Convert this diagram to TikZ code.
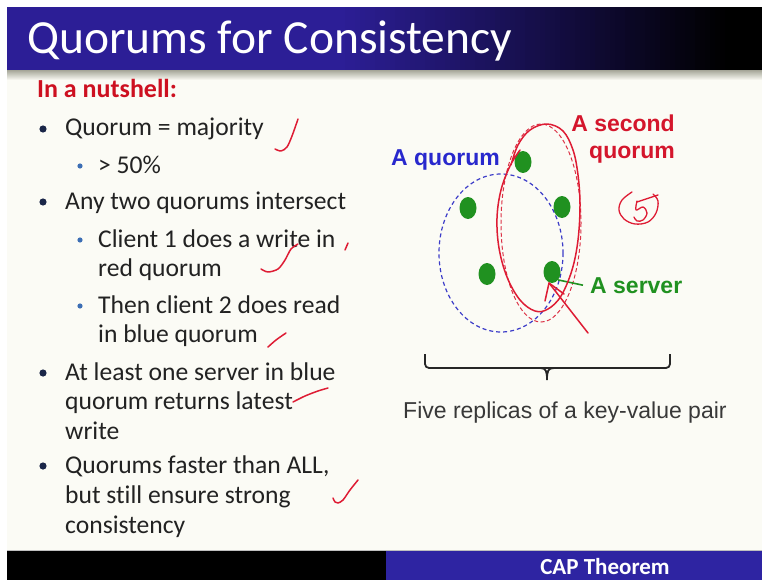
\documentclass[tikz,border=0pt]{standalone}
\usepackage{fontspec}
\setmainfont[Ligatures={NoCommon,NoRequired,NoContextual}]{Carlito}
\newfontfamily\arialf{Liberation Sans}
\usetikzlibrary{shapes.geometric}
\definecolor{titleblue}{RGB}{44,30,150}
\definecolor{barblue}{RGB}{46,36,162}
\definecolor{bodybg}{RGB}{251,251,245}
\definecolor{shadowgray}{RGB}{165,166,152}
\definecolor{textgray}{RGB}{34,34,34}
\definecolor{nutred}{RGB}{205,16,32}
\definecolor{bulletnavy}{RGB}{26,38,72}
\definecolor{subblue}{RGB}{60,110,180}
\definecolor{qblue}{RGB}{40,40,205}
\definecolor{qred}{RGB}{212,22,44}
\definecolor{srvgreen}{RGB}{32,145,32}
\definecolor{penred}{RGB}{222,28,52}
\definecolor{dashblue}{RGB}{60,60,200}
\definecolor{dashred}{RGB}{220,50,70}
\begin{document}
\begin{tikzpicture}[x=1pt,y=-1pt,
  bodytext/.style={anchor=base west, inner sep=0pt, text=textgray, font=\fontsize{25.6}{30}\selectfont},
  lbl/.style={inner sep=0pt, font=\arialf\bfseries\fontsize{23}{27}\selectfont},
  server/.style={ellipse, fill=srvgreen, minimum width=17pt, minimum height=22pt, inner sep=0pt},
  hand/.style={draw=penred, line width=1.5pt, line cap=round, line join=round},
  mainbullet/.style={fill=bulletnavy},
  subbullet/.style={fill=subblue}]
\useasboundingbox (0,0) rectangle (762,580);
\fill[white] (0,0) rectangle (762,580);
% body
\fill[bodybg] (7,70) rectangle (762,551);
% title bar
\fill[titleblue] (7,7) rectangle (341,70);
\foreach \i in {0,...,77}{
  \pgfmathtruncatemacro\pct{100-\i*100/77}
  \fill[titleblue!\pct!black] ({340+5*\i},7) rectangle ({346+5*\i},70);
}
\fill[black] (729,7) rectangle (762,70);
\foreach \i in {0,...,10}{
  \pgfmathtruncatemacro\pct{100-\i*10}
  \fill[shadowgray!\pct!bodybg] (7,{70+\i}) rectangle (762,{71.2+\i});
}
\node[anchor=base west, inner sep=0pt, text=white, font=\fontsize{47.5}{52}\selectfont] (title) at (27,54) {Quorums for Consistency};
% bottom bar
\fill[gray!50] (7,550) rectangle (762,551);
\fill[black] (7,551) rectangle (386,580);
\fill[barblue] (386,551) rectangle (762,580);
\node[anchor=base, inner sep=0pt, text=white, font=\bfseries\fontsize{23}{27}\selectfont] (cap) at (605,574) {CAP Theorem};
% left text
\node[anchor=base west, inner sep=0pt, text=nutred, font=\bfseries\fontsize{26}{30}\selectfont] (nut) at (37,98) {In a nutshell:};
\fill[mainbullet] (43,129) circle (3.6);
\node[bodytext] (b1) at (65,136) {Quorum = majority};
\fill[subbullet] (80,166) circle (2.6);
\node[bodytext] (b1a) at (98,173) {> 50\%};
\fill[mainbullet] (43,202) circle (3.6);
\node[bodytext] (b2) at (65,209) {Any two quorums intersect};
\fill[subbullet] (80,240) circle (2.6);
\node[bodytext] (b2a) at (98,247) {Client 1 does a write in};
\node[bodytext] (b2b) at (98,276) {red quorum};
\fill[subbullet] (80,306) circle (2.6);
\node[bodytext] (b2c) at (98,313) {Then client 2 does read};
\node[bodytext] (b2d) at (98,342) {in blue quorum};
\fill[mainbullet] (43,373) circle (3.6);
\node[bodytext] (b3) at (65,380) {At least one server in blue};
\node[bodytext] (b3b) at (65,409) {quorum returns latest};
\node[bodytext] (b3c) at (65,439) {write};
\fill[mainbullet] (43,466) circle (3.6);
\node[bodytext] (b4) at (65,473) {Quorums faster than ALL,};
\node[bodytext] (b4b) at (65,503) {but still ensure strong};
\node[bodytext] (b4c) at (65,533) {consistency};
% handwritten marks on the left
\draw[hand] plot[smooth] coordinates {(298,119) (292,136) (287,147) (281,151) (275,149)};
\draw[hand] plot[smooth] coordinates {(298,244) (291,249) (285,260) (278,269) (268,272) (261,269)};
\draw[hand] (345,250) -- (348,243);
\draw[hand] plot[smooth] coordinates {(268,347) (276,340) (286,333)};
\draw[hand] plot[smooth] coordinates {(293,402) (305,396) (318,391) (328,388)};
\draw[hand] plot[smooth] coordinates {(358,480) (350,490) (343,500) (338,503) (335,502) (333,498)};
% diagram
\draw[dashblue, line width=1.2pt, dash pattern=on 4pt off 3pt] (501,253) ellipse [x radius=62, y radius=79];
\draw[dashred, line width=1pt, dash pattern=on 4pt off 2.5pt] (541,223) ellipse [x radius=40, y radius=99];
\node[server] (s1) at (523,162) {};
\node[server] (s2) at (468,208) {};
\node[server] (s3) at (562,207) {};
\node[server] (s4) at (487,274) {};
\node[server] (s5) at (552,272) {};
\node[lbl, text=qblue, anchor=base west] (aq) at (391,166) {A quorum};
\node[lbl, text=qred, anchor=base east] (sq1) at (675,132) {A second};
\node[lbl, text=qred, anchor=base east] (sq2) at (675,159) {quorum};
\node[lbl, text=srvgreen, anchor=base west] (srv) at (590,293) {A server};
\draw[srvgreen, line width=1.6pt] ([xshift=-7pt]srv.west) -- (s5.south east);
% handwritten loop
\draw[hand] plot[smooth, tension=0.6] coordinates {(511,165) (518,145) (530,130) (547,124) (563,131) (573,150) (578,175) (580,205) (578,240) (572,270) (561,296) (548,309) (535,311) (520,300) (507,277) (499,248) (497,218) (501,190) (510,166) (520,150)};
% handwritten arrow
\coordinate (tip) at (549,283);
\coordinate (tail) at (588,333);
\draw[hand] (tail) -- (tip);
\draw[hand] (545,301) -- (tip) -- (564,294);
% circled 5
\draw[hand, line width=1.3pt] plot[smooth, tension=0.6] coordinates {(632,192) (622,200) (619,210) (624,219) (635,224) (648,222) (656,213) (658,201) (653,194)};
\draw[hand, line width=1.3pt] (637,202) -- (658,195);
\draw[hand, line width=1.3pt] plot[smooth, tension=0.6] coordinates {(637,201) (636,210) (643,207) (647,213) (643,220) (637,221) (634,217)};
% brace
\draw[black!85, line width=1.8pt, rounded corners=4pt] (425,354) -- (425,368) -- (670,368) -- (670,354);
\draw[black!85, line width=1.8pt] (540,368) .. controls (546,368) and (547,371) .. (547,380) .. controls (547,371) and (548,368) .. (554,368);
\node[anchor=base west, inner sep=0pt, text=textgray!90, font=\arialf\fontsize{23}{27}\selectfont] (five) at (403,418) {Five replicas of a key-value pair};
\end{tikzpicture}
\end{document}
